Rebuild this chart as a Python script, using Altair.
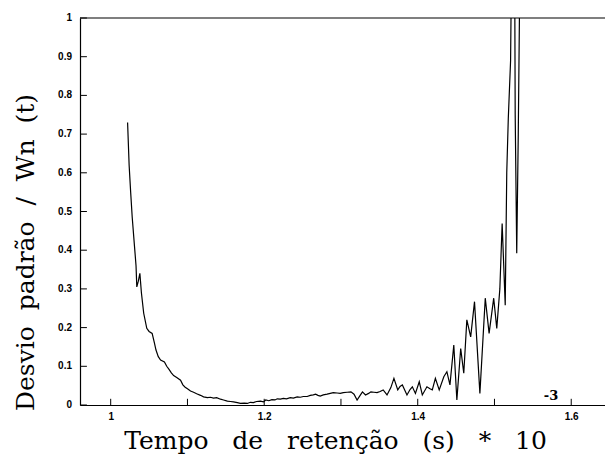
import altair as alt
import pandas as pd

# Retention time (s * 1e-3) and normalised standard deviation
tempo = [
    1.022, 1.024, 1.026, 1.028, 1.031, 1.033, 1.034, 1.036, 1.038, 1.040,
    1.043, 1.047, 1.050, 1.054, 1.057, 1.059, 1.062, 1.065, 1.070, 1.073,
    1.076, 1.079, 1.082, 1.086, 1.091, 1.094, 1.097, 1.100, 1.104, 1.108,
    1.112, 1.117, 1.121, 1.126, 1.130, 1.134, 1.138, 1.143, 1.147, 1.152,
    1.156, 1.160, 1.165, 1.169, 1.174, 1.178, 1.182, 1.186, 1.190, 1.195,
    1.199, 1.202, 1.206, 1.210, 1.214, 1.217, 1.221, 1.225, 1.229, 1.234,
    1.238, 1.243, 1.247, 1.251, 1.256, 1.260, 1.264, 1.267, 1.270, 1.273,
    1.277, 1.282, 1.286, 1.290, 1.295, 1.299, 1.303, 1.308, 1.313, 1.317,
    1.321, 1.325, 1.328, 1.332, 1.336, 1.339, 1.343, 1.347, 1.351, 1.355,
    1.360, 1.365, 1.369, 1.374, 1.377, 1.380, 1.386, 1.390, 1.393, 1.397,
    1.402, 1.406, 1.412, 1.416, 1.419, 1.423, 1.428, 1.434, 1.438, 1.442,
    1.447, 1.451, 1.456, 1.460, 1.464, 1.469, 1.474, 1.481, 1.488, 1.493,
    1.499, 1.503, 1.507, 1.510, 1.514, 1.516, 1.518, 1.521, 1.523, 1.526,
    1.527, 1.529, 1.531, 1.534,
]
desvio = [
    0.730, 0.620, 0.550, 0.486, 0.410, 0.360, 0.305, 0.320, 0.340, 0.290,
    0.237, 0.198, 0.190, 0.185, 0.160, 0.142, 0.125, 0.116, 0.111, 0.100,
    0.092, 0.083, 0.076, 0.071, 0.064, 0.052, 0.046, 0.042, 0.036, 0.033,
    0.029, 0.025, 0.021, 0.019, 0.020, 0.018, 0.019, 0.015, 0.013, 0.010,
    0.009, 0.008, 0.006, 0.004, 0.005, 0.004, 0.007, 0.006, 0.009, 0.010,
    0.008, 0.013, 0.011, 0.014, 0.013, 0.016, 0.015, 0.017, 0.016, 0.019,
    0.018, 0.021, 0.020, 0.022, 0.022, 0.025, 0.026, 0.028, 0.025, 0.023,
    0.026, 0.028, 0.030, 0.032, 0.031, 0.030, 0.032, 0.033, 0.034, 0.028,
    0.013, 0.025, 0.034, 0.026, 0.030, 0.034, 0.033, 0.032, 0.035, 0.039,
    0.026, 0.045, 0.069, 0.039, 0.048, 0.052, 0.026, 0.040, 0.047, 0.030,
    0.060, 0.026, 0.047, 0.042, 0.039, 0.069, 0.039, 0.073, 0.086, 0.052,
    0.155, 0.013, 0.146, 0.082, 0.220, 0.176, 0.267, 0.030, 0.276, 0.185,
    0.276, 0.198, 0.300, 0.469, 0.258, 0.600, 0.740, 0.890, 1.300, 1.300,
    0.750, 0.392, 0.700, 1.300,
]

x_ticks = [1.0, 1.1, 1.2, 1.3, 1.4, 1.5, 1.6]
y_ticks = [0.0, 0.1, 0.2, 0.3, 0.4, 0.5, 0.6, 0.7, 0.8, 0.9, 1.0]
x_labels = [1.0, 1.2, 1.4, 1.6]

X_DOMAIN = [0.96, 1.644]
Y_DOMAIN = [0.0, 1.0]
TITLE_FONT = "DejaVu Serif"
LABEL_FONT = "Liberation Sans"
SP_X = "\u00a0\u00a0\u00a0"  # wide word gaps in the axis titles
SP_Y = "\u00a0\u00a0"

serie = pd.DataFrame({"tempo": tempo, "desvio": desvio})
xt = pd.DataFrame({"v": x_ticks})
yt = pd.DataFrame({"v": y_ticks, "rotulo": [f"{v:g}" for v in y_ticks]})

x_scale = alt.Scale(domain=X_DOMAIN, nice=False, zero=False)
y_scale = alt.Scale(domain=Y_DOMAIN, nice=False, zero=False)

x_axis = alt.Axis(
    values=x_labels, format="~g", ticks=False, grid=False,
    domainColor="black", domainWidth=1.2,
    labelFont=LABEL_FONT, labelFontWeight="bold", labelFontSize=10,
    labelColor="black", labelPadding=6, labelFlush=False, labelOverlap=False,
    title=SP_X.join(["Tempo", "de", "retenção", "(s)", "*", "10"]),
    titleFont=TITLE_FONT, titleFontSize=25, titleFontWeight="normal",
    titleColor="black", titleX=255, titleY=43, titleAlign="center",
    titleBaseline="alphabetic",
)
# y labels are drawn by a text layer below, so the axis keeps only its line and title
y_axis = alt.Axis(
    values=y_ticks, ticks=False, grid=False, labels=False,
    domainColor="black", domainWidth=1.2,
    title=SP_Y.join(["Desvio", "padrão", "/", "Wn", "(t)"]),
    titleFont=TITLE_FONT, titleFontSize=25, titleFontWeight="normal",
    titleColor="black", titleAngle=-90, titleX=-47, titleY=234,
    titleAlign="center", titleBaseline="alphabetic",
)

curve = alt.Chart(serie).mark_line(color="black", strokeWidth=1.2, clip=True).encode(
    x=alt.X("tempo:Q", scale=x_scale, axis=x_axis),
    y=alt.Y("desvio:Q", scale=y_scale, axis=y_axis),
)

# inward ticks on the bottom axis
xtick_marks = alt.Chart(xt).mark_rule(color="black", strokeWidth=1).encode(
    x=alt.X("v:Q", scale=x_scale, axis=x_axis),
    y=alt.datum(0.0),
    y2=alt.datum(0.016),
)

# inward ticks on the left axis
ytick_marks = alt.Chart(yt).mark_rule(color="black", strokeWidth=1).encode(
    y=alt.Y("v:Q", scale=y_scale, axis=y_axis),
    x=alt.datum(X_DOMAIN[0]),
    x2=alt.datum(X_DOMAIN[0] + 0.009),
)

# tick labels of the left axis
ytick_labels = alt.Chart(yt).mark_text(
    font=LABEL_FONT, fontWeight="bold", fontSize=10, color="black",
    align="right", baseline="middle", dx=-8,
).encode(
    y=alt.Y("v:Q", scale=y_scale, axis=y_axis),
    x=alt.datum(X_DOMAIN[0]),
    text="rotulo:N",
)

# frame line along the top
top_line = alt.Chart().mark_rule(color="black", strokeWidth=1.2).encode(
    y=alt.datum(1.0),
)

# exponent of the x-axis title
expoente = alt.Chart().mark_text(
    text="-3", font=TITLE_FONT, fontSize=13, fontWeight="bold",
    color="black", align="center", baseline="middle",
).encode(x=alt.value(471), y=alt.value(378))

chart = alt.layer(
    curve, xtick_marks, ytick_marks, ytick_labels, top_line, expoente
).properties(
    width=525, height=387,
    autosize=alt.AutoSizeParams(type="none"),
    padding={"left": 80, "top": 18, "right": 0, "bottom": 56},
    background="white",
).configure_view(stroke=None)

chart.save("out.html", embed_options={"renderer": "svg", "actions": False})
